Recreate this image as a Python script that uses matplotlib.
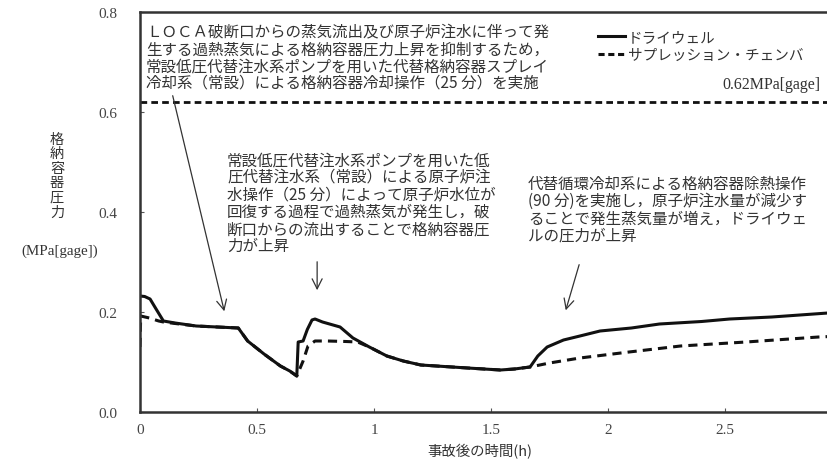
import matplotlib
matplotlib.use("Agg")
import matplotlib.pyplot as plt
from matplotlib.lines import Line2D

plt.rcParams['font.family'] = ['Noto Sans CJK JP', 'DejaVu Sans']

# ---- data ----
dw_t = [0.0, 0.02, 0.043, 0.07, 0.10, 0.15, 0.24, 0.33, 0.42, 0.46, 0.53, 0.60, 0.64, 0.670,
        0.676, 0.697, 0.715, 0.735, 0.748, 0.78, 0.855, 0.91, 0.98, 1.055, 1.125, 1.2,
        1.3, 1.4, 1.54, 1.6, 1.667, 1.70, 1.74, 1.81, 1.88, 1.966, 2.1, 2.22, 2.4,
        2.52, 2.7, 2.94, 3.0]
dw_p = [0.232, 0.231, 0.226, 0.205, 0.182, 0.178, 0.172, 0.170, 0.168, 0.142, 0.116, 0.092,
        0.082, 0.072, 0.140, 0.142, 0.165, 0.184, 0.186, 0.180, 0.170, 0.148, 0.130, 0.112,
        0.102, 0.094, 0.091, 0.088, 0.084, 0.086, 0.090, 0.112, 0.130, 0.144, 0.152,
        0.162, 0.168, 0.176, 0.181, 0.186, 0.190, 0.198, 0.199]

sc_t = [0.0, 0.003, 0.04, 0.08, 0.10, 0.15, 0.24, 0.33, 0.42, 0.46, 0.53, 0.60, 0.64, 0.670,
        0.697, 0.718, 0.748, 0.80, 0.88, 0.93, 0.98, 1.055, 1.125, 1.2, 1.3, 1.4,
        1.54, 1.6, 1.667, 1.75, 1.88, 2.09, 2.31, 2.59, 2.9, 3.0]
sc_p = [0.130, 0.192, 0.188, 0.182, 0.180, 0.177, 0.172, 0.170, 0.168, 0.142, 0.116, 0.092,
        0.082, 0.072, 0.102, 0.132, 0.142, 0.142, 0.141, 0.140, 0.130, 0.112, 0.102,
        0.094, 0.091, 0.088, 0.084, 0.086, 0.090, 0.098, 0.108, 0.120, 0.132, 0.140,
        0.150, 0.152]

limit_value = 0.62
limit_label = "0.62MPa[gage]"
series_labels = ["ドライウェル", "サプレッション・チェンバ"]
xticks = [0, 0.5, 1, 1.5, 2, 2.5]
xticklabels = ["0", "0.5", "1", "1.5", "2", "2.5"]
yticks = [0.0, 0.2, 0.4, 0.6, 0.8]
yticklabels = ["0.0", "0.2", "0.4", "0.6", "0.8"]

note1 = ("ＬＯＣＡ破断口からの蒸気流出及び原子炉注水に伴って発\n"
         "生する過熱蒸気による格納容器圧力上昇を抑制するため，\n"
         "常設低圧代替注水系ポンプを用いた代替格納容器スプレイ\n"
         "冷却系（常設）による格納容器冷却操作（25 分）を実施")
note2 = ("常設低圧代替注水系ポンプを用いた低\n"
         "圧代替注水系（常設）による原子炉注\n"
         "水操作（25 分）によって原子炉水位が\n"
         "回復する過程で過熱蒸気が発生し，破\n"
         "断口からの流出することで格納容器圧\n"
         "力が上昇")
note3 = ("代替循環冷却系による格納容器除熱操作\n"
         "(90 分)を実施し，原子炉注水量が減少す\n"
         "ることで発生蒸気量が増え，ドライウェ\n"
         "ルの圧力が上昇")

# ---- figure ----
W, H = 827, 464
fig = plt.figure(figsize=(W / 100, H / 100), dpi=100)
left_px, right_px, top_px, bot_px = 140, 842, 13, 413
ax = fig.add_axes([left_px / W, (H - bot_px) / H, (right_px - left_px) / W, (bot_px - top_px) / H])
ax.set_xlim(0, 3)
ax.set_ylim(0, 0.8)

ink = '#111111'
ax.plot(dw_t, dw_p, color=ink, lw=2.2, solid_joinstyle='round')
ax.plot(sc_t, sc_p, color=ink, lw=2.2, dashes=(3.0, 2.0))
ax.axhline(limit_value, color=ink, lw=2.0, dashes=(2.4, 1.5))

for s in ax.spines.values():
    s.set_linewidth(1.8)
    s.set_color('#333333')

serif = ['Liberation Serif', 'DejaVu Serif']
ax.set_xticks(xticks)
ax.set_xticklabels(xticklabels)
ax.set_yticks(yticks)
ax.set_yticklabels(yticklabels)
ax.tick_params(direction='in', length=3, width=0.8, colors='#555555', labelcolor='#444444',
               labelsize=11)
ax.tick_params(axis='x', pad=8)
ax.tick_params(axis='y', pad=16)
for lab in ax.get_xticklabels() + ax.get_yticklabels():
    lab.set_family(serif)

# legend
handles = [Line2D([], [], color=ink, lw=2.2),
           Line2D([], [], color=ink, lw=2.2, dashes=(2.0, 1.2))]
leg = ax.legend(handles, series_labels, loc='upper left', bbox_to_anchor=(0.652, 0.955),
                frameon=False, handlelength=1.9, handletextpad=0.15, labelspacing=0.3,
                borderpad=0, borderaxespad=0, prop={'size': 10.5})
for t in leg.get_texts():
    t.set_color('#333333')

txtc = '#333333'
ax.text(2.487, 0.655, limit_label, fontsize=11.5, color=txtc, va='center', ha='left',
        family=serif)

ax.text(0.026, 0.778, note1, fontsize=11.2, color=txtc, va='top', ha='left', linespacing=1.0)
ax.text(0.372, 0.522, note2, fontsize=11.2, color=txtc, va='top', ha='left', linespacing=1.02)
ax.text(1.658, 0.474, note3, fontsize=11.2, color=txtc, va='top', ha='left', linespacing=1.02)

arrow = dict(arrowstyle='->', color='#333333', lw=0.9, mutation_scale=18)
ax.annotate('', xy=(0.363, 0.196), xytext=(0.137, 0.638), arrowprops=arrow)
ax.annotate('', xy=(0.757, 0.238), xytext=(0.757, 0.306), arrowprops=arrow)
ax.annotate('', xy=(1.816, 0.198), xytext=(1.88, 0.30), arrowprops=arrow)

# axis labels
fig.text(57 / W, 1 - 176 / H, "格\n納\n容\n器\n圧\n力", fontsize=10.2, color=txtc,
         ha='center', va='center', linespacing=1.05)
fig.text(60 / W, 1 - 251 / H, "(MPa[gage])", fontsize=10.8, color=txtc, ha='center', va='center',
         family=serif)
fig.text(480 / W, 1 - 452 / H, "事故後の時間(h)", fontsize=10.4, color=txtc, ha='center', va='center')

fig.savefig('out.png', dpi=100)
